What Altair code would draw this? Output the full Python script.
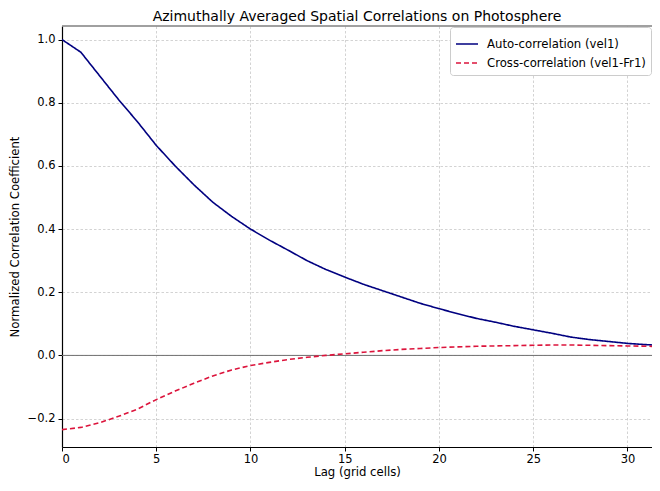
import altair as alt
import pandas as pd

lags = list(range(33))
auto_corr = [1.000, 0.960, 0.885, 0.810, 0.740, 0.665, 0.600, 0.540, 0.485, 0.440,
             0.400, 0.365, 0.333, 0.300, 0.272, 0.248, 0.225, 0.205, 0.185, 0.165,
             0.148, 0.132, 0.117, 0.105, 0.092, 0.081, 0.070, 0.058, 0.050, 0.044,
             0.038, 0.034, 0.031]
cross_corr = [-0.235, -0.228, -0.213, -0.193, -0.170, -0.140, -0.113, -0.088, -0.065, -0.046,
              -0.032, -0.022, -0.013, -0.006, 0.000, 0.005, 0.010, 0.015, 0.019, 0.022,
              0.025, 0.027, 0.029, 0.030, 0.031, 0.032, 0.033, 0.033, 0.032, 0.031,
              0.030, 0.029, 0.028]
series_names = ["Auto-correlation (vel1)", "Cross-correlation (vel1-Fr1)"]
series_colors = ["#000080", "#DC143C"]
x_ticks = [0, 5, 10, 15, 20, 25, 30]
y_ticks = [-0.2, 0.0, 0.2, 0.4, 0.6, 0.8, 1.0]

rows = []
for i, l in enumerate(lags):
    rows.append({"lag": l, "value": auto_corr[i], "series": series_names[0]})
    rows.append({"lag": l, "value": cross_corr[i], "series": series_names[1]})
df = pd.DataFrame(rows)

W, H = 590, 421
FONT = "DejaVu Sans"
xscale = alt.Scale(domain=[0, 31.3], nice=False, zero=False)
yscale = alt.Scale(domain=[-0.29, 1.043], nice=False, zero=False)

legend_kw = dict(title=None, orient="none", legendX=388, legendY=1, symbolType="stroke",
                 symbolSize=484, symbolStrokeWidth=1.6, labelOffset=8,
                 labelFont=FONT, labelFontSize=11.7, labelColor="#000",
                 fillColor="white", strokeColor="#cccccc",
                 padding=5, cornerRadius=3, rowPadding=0)

zero_line = alt.Chart(pd.DataFrame({"y": [0.0]})).mark_rule(
    color="#707070", strokeWidth=1
).encode(y=alt.Y("y:Q", scale=yscale))

top_spine = alt.Chart(pd.DataFrame({"a": [0]})).mark_rule(
    color="#808080", strokeWidth=1.5
).encode(x=alt.value(0), x2=alt.value(W), y=alt.value(0))

lines = alt.Chart(df).mark_line(strokeWidth=1.6, clip=True).encode(
    x=alt.X("lag:Q", scale=xscale,
            axis=alt.Axis(title="Lag (grid cells)", values=x_ticks, format="d")),
    y=alt.Y("value:Q", scale=yscale,
            axis=alt.Axis(title="Normalized Correlation Coefficient", values=y_ticks, format=".1f")),
    color=alt.Color("series:N",
                    scale=alt.Scale(domain=series_names, range=series_colors),
                    legend=alt.Legend(**legend_kw)),
    strokeDash=alt.StrokeDash("series:N",
                              scale=alt.Scale(domain=series_names, range=[[1, 0], [5, 3]]),
                              legend=alt.Legend(**legend_kw)),
    order="lag:Q",
)

chart = alt.layer(zero_line, lines, top_spine).properties(
    width=W, height=H,
    title=alt.TitleParams("Azimuthally Averaged Spatial Correlations on Photosphere",
                          font=FONT, fontSize=14, fontWeight="normal", color="#000",
                          anchor="middle", offset=1),
    autosize=alt.AutoSizeParams(type="none"),
    padding={"left": 54, "top": 18, "right": 0, "bottom": 36},
).configure_view(stroke=None).configure_axis(
    labelFont=FONT, labelFontSize=11.5, labelColor="#000",
    titleFont=FONT, titleFontSize=11.7, titleFontWeight="normal", titleColor="#000",
    domainColor="#000", domainWidth=1.2, tickColor="#000", tickSize=4, tickWidth=1,
    labelPadding=3, grid=True, gridColor="#c0c0c0", gridDash=[2.5, 2], gridWidth=0.7,
).configure_axisX(titlePadding=2, labelPadding=2).configure_axisY(titlePadding=7)

chart.save("out.html", embed_options={"renderer": "svg", "actions": False})
